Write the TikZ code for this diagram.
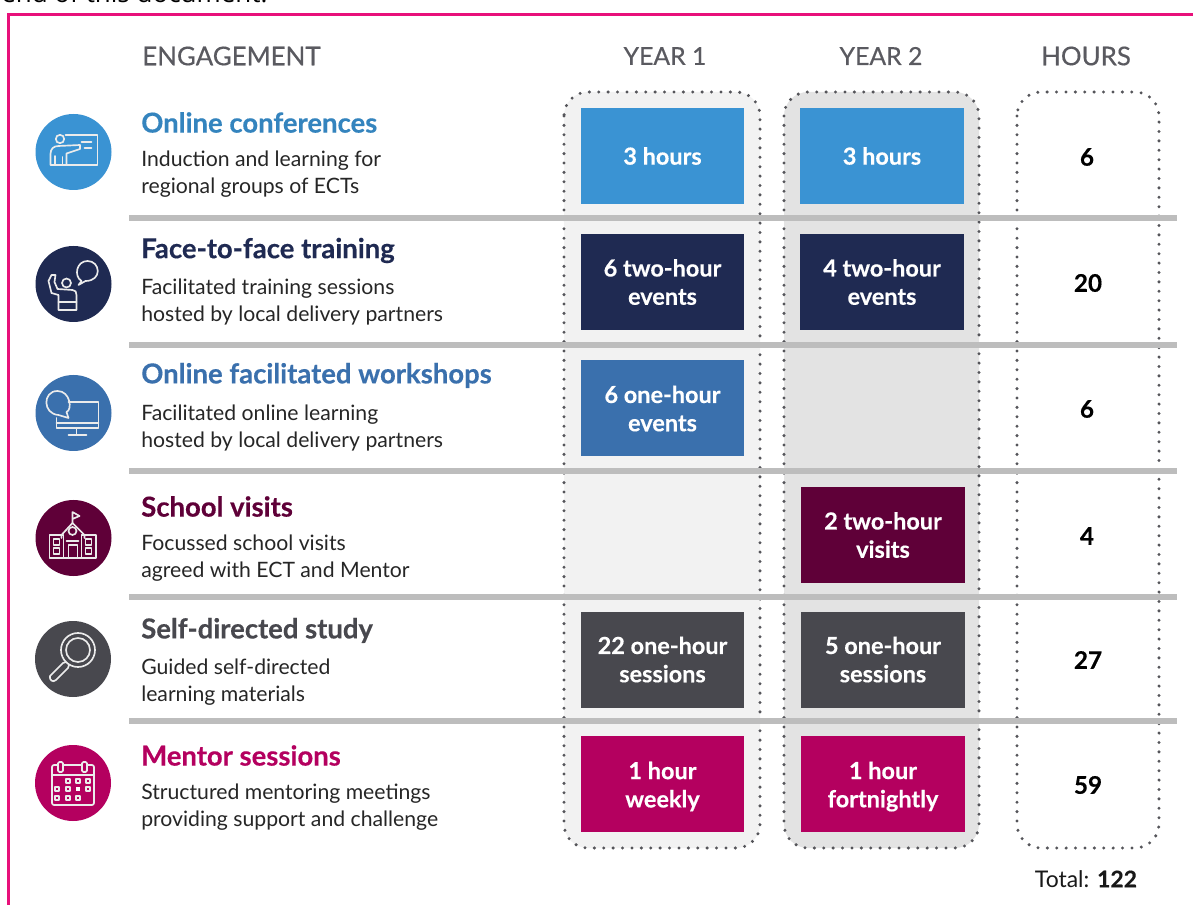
\documentclass[tikz,border=0pt]{standalone}
\usepackage{fontspec}
\setmainfont{Lato}
\newfontfamily\topfont{Open Sans}
\definecolor{cblue}{HTML}{3A93D3}
\definecolor{cnavy}{HTML}{1F2A52}
\definecolor{cmid}{HTML}{3A70AD}
\definecolor{cplum}{HTML}{5F0038}
\definecolor{cgrey}{HTML}{48484E}
\definecolor{cmag}{HTML}{B4005F}
\definecolor{cframe}{HTML}{E8107A}
\definecolor{crule}{HTML}{BDBDBD}
\definecolor{cdot}{HTML}{55555A}
\newcommand{\hv}{\addfontfeature{FakeBold=0.35}}
\newcommand{\lowr}[1]{\raisebox{-1.9pt}[\height][\depth]{#1}}
\tikzset{
 x=0.75pt,y=-0.75pt,
 cell/.style={minimum width=122.5pt,minimum height=72pt,inner sep=0pt,text=white,align=center,font=\fontsize{17.6}{21.2}\selectfont\bfseries\hv},
 head/.style={font=\fontsize{19.4}{22}\selectfont\hv,text=cgrey!90!white},
 ttl/.style={anchor=west,inner sep=0pt,font=\fontsize{20.6}{24}\selectfont\bfseries\hv},
 desc/.style={anchor=north west,inner sep=0pt,align=left,text=black!85,font=\fontsize{15.9}{19.6}\selectfont},
 hrs/.style={font=\fontsize{18.2}{21}\selectfont\bfseries\hv,text=black},
 dotbox/.style={line width=2.5pt,cdot,dash pattern=on 0pt off 7.05pt,line cap=round,rounded corners=18pt},
 panel/.style={rounded corners=18pt},
 rowrule/.style={crule,line width=3.9pt},
 ico/.style={white!92!black,line width=1.25pt,line join=round,line cap=round},
 circ/.style={circle,minimum size=57pt,inner sep=0pt},
}
\begin{document}
\begin{tikzpicture}
\useasboundingbox (0,0) rectangle (1193,905);
\fill[white] (0,0) rectangle (1193,905);
\node[anchor=base west,inner sep=0pt,font=\fontsize{19.5}{22}\selectfont\topfont,text=black] (toptext) at (1,3) {end of this document.};
\draw[cframe,line width=1.7pt] (8.5,905) -- (8.5,14.5) -- (1193,14.5);
% panels
\fill[black!5,panel] (564,92) rectangle (760,848);
\fill[black!11,panel] (784,92) rectangle (979,848);
% dotted boxes
\draw[dotbox] (564,92) rectangle (760,848);
\draw[dotbox] (784,92) rectangle (979,848);
\draw[dotbox] (1017,92) rectangle (1159,848);
% rules
\foreach \yy in {218,345,471,597,721} \draw[rowrule] (129,\yy) -- (1177,\yy);
% headers
\node[head,anchor=west,inner sep=0pt] (hE) at (142,56) {ENGAGEMENT};
\node[head,font=\fontsize{18.6}{22}\selectfont\hv] (hY1) at (665,56) {YEAR 1};
\node[head,font=\fontsize{18.6}{22}\selectfont\hv] (hY2) at (881,56) {YEAR 2};
\node[head] (hH) at (1086,56) {HOURS};
% cells
\node[cell,fill=cblue] (a1) at (662.5,156) {3 hours};
\node[cell,fill=cblue] (a2) at (882,156) {3 hours};
\node[cell,fill=cnavy] (b1) at (662.5,282) {6 two-hour\\events};
\node[cell,fill=cnavy] (b2) at (882,282) {4 two-hour\\events};
\node[cell,fill=cmid] (c1) at (662.5,408.5) {6 one-hour\\events};
\node[cell,fill=cplum] (d2) at (883,535) {2 two-hour\\visits};
\node[cell,fill=cgrey] (e1) at (662.5,659.5) {22 one-hour\\sessions};
\node[cell,fill=cgrey] (e2) at (883,659.5) {5 one-hour\\sessions};
\node[cell,fill=cmag] (f1) at (662.5,784) {\lowr{1 hour}\\\lowr{weekly}};
\node[cell,fill=cmag] (f2) at (883,784) {\lowr{1 hour}\\\lowr{fortnightly}};
% hours
\node[hrs] (h1) at (1087,157) {6};
\node[hrs] (h2) at (1088,283) {20};
\node[hrs] (h3) at (1087,409) {6};
\node[hrs] (h4) at (1087,536) {4};
\node[hrs] (h5) at (1088,660) {27};
\node[hrs] (h6) at (1088,785) {59};
\node[font=\fontsize{17.2}{20}\selectfont,text=black!90] (tot) at (1086,879) {Total: \textbf{\hv 122}};
% titles and descriptions
\node[ttl,text=cblue!90!black] (t1) at (141,122.5) {Online conferences};
\node[desc] (d1) at (141,151) {Induction and learning for\\regional groups of ECTs};
\node[ttl,text=cnavy] (t2) at (141,250.5) {Face-to-face training};
\node[desc] (dd2) at (141,279) {Facilitated training sessions\\hosted by local delivery partners};
\node[ttl,text=cmid] (t3) at (141,375.5) {Online facilitated workshops};
\node[desc] (dd3) at (141,405) {Facilitated online learning\\hosted by local delivery partners};
\node[ttl,text=cplum] (t4) at (141,506.5) {School visits};
\node[desc] (dd4) at (141,535) {Focussed school visits\\agreed with ECT and Mentor};
\node[ttl,text=cgrey] (t5) at (141,630.5) {Self-directed study};
\node[desc] (dd5) at (141,659) {Guided self-directed\\learning materials};
\node[ttl,text=cmag] (t6) at (141,755.5) {Mentor sessions};
\node[desc] (dd6) at (141,784) {Structured mentoring meetings\\providing support and challenge};
% icons
\node[circ,fill=cblue] (i1) at (73.5,152) {};
\node[circ,fill=cnavy] (i2) at (73.5,284) {};
\node[circ,fill=cmid] (i3) at (73.5,413) {};
\node[circ,fill=cplum] (i4) at (73.5,538) {};
\node[circ,fill=cgrey] (i5) at (73,659) {};
\node[circ,fill=cmag] (i6) at (73,783) {};
% icon 1: presenter
\begin{scope}[shift={(73.5,152)}]
\draw[ico] (-8,-17) -- (24,-17) -- (24,13) -- (-7,13);
\draw[ico] (-13.5,-13) circle (4.2);
\draw[ico] (-23,13) -- (-23,2) .. controls (-23,-3) and (-20,-6) .. (-15,-6) -- (6.5,-7) -- (6.5,-3) -- (-7,1.5) -- (-7,13) -- cycle;
\draw[ico] (-18.5,4) -- (-18.5,13) (-11,5) -- (-11,13);
\draw[ico] (8,-10) -- (18,-10) (11,-4) -- (18,-4);
\end{scope}
% icon 2: raised hand with speech bubble
\begin{scope}[shift={(73.5,284)}]
\draw[ico] (8,-3) .. controls (0,-8) and (3,-23) .. (14,-23) .. controls (27,-23) and (29,-3) .. (12,-3) -- (5,1) -- cycle;
\draw[ico] (-7,-1) circle (4.5);
\draw[ico] (-15,26) -- (-15,11) -- (-22,9) -- (-25,-3) -- (-22,-9) -- (-18,-9) -- (-19,-2) -- (-16,5) -- (-1,6) .. controls (2,6) and (3,8) .. (3,11) -- (3,26) -- cycle;
\draw[ico] (-15,18) -- (3,18);
\end{scope}
% icon 3: computer with speech bubble
\begin{scope}[shift={(73.5,413)}]
\draw[ico] (-5,-11) -- (25,-11) -- (25,15) -- (-17,15) -- (-17,5);
\draw[ico] (-17,10) -- (25,10);
\draw[ico] (3,15) -- (3,22) (-5,22) -- (13,22);
\draw[ico] (-15,2) .. controls (-31,1) and (-31,-22) .. (-16,-22) .. controls (-3,-22) and (-1,-3) .. (-7,-1) -- (-5,5) -- cycle;
\end{scope}
% icon 4: school
\begin{scope}[shift={(73.5,538)}]
\draw[ico] (-1,-15) -- (-1,-26) -- (6,-22) -- (-1,-19);
\draw[ico] (-12,0) -- (-12,-3) -- (-1,-15) -- (11,-3) -- (11,0);
\draw[ico] (-1,-7) circle (4);
\draw[ico] (-7,3) -- (5,3);
\draw[ico] (-24,-3) rectangle (-10,20);
\draw[ico] (8,-3) rectangle (22.5,20);
\draw[ico] (-10,20) -- (8,20);
\draw[ico] (-5,20) rectangle (4,7);
\draw[ico] (-20,1) rectangle (-14,7) (-20,10) rectangle (-14,16);
\draw[ico] (12,1) rectangle (18,7) (12,10) rectangle (18,16);
\end{scope}
% icon 5: magnifier
\begin{scope}[shift={(73,659)}]
\draw[ico] (5,-9) circle (17);
\draw[ico] (5,-9) circle (12);
\draw[ico] (-7,3) -- (-10,4) -- (-23,17) .. controls (-24,21) and (-20,24) .. (-17,21) -- (-5,9) -- (-4,6);
\end{scope}
% icon 6: calendar
\begin{scope}[shift={(73,783)}]
\draw[ico,rounded corners=1.5pt] (-21,-18) rectangle (21,22);
\draw[ico] (-21,-8) -- (21,-8);
\draw[ico,fill=cmag,rounded corners=1pt] (-15,-21) rectangle (-10,-11);
\draw[ico,fill=cmag,rounded corners=1pt] (9,-21) rectangle (14,-11);
\foreach \cx/\cy in {-5/-2,5/-2,15/-2,-16/6,-5/6,15/6,-16/15,-5/15,5/15}
 \draw[ico,line width=.9pt] (\cx-2,\cy-2) rectangle (\cx+2,\cy+2);
\fill[white] (3,4) rectangle (7,8);
\end{scope}
\end{tikzpicture}
\end{document}
